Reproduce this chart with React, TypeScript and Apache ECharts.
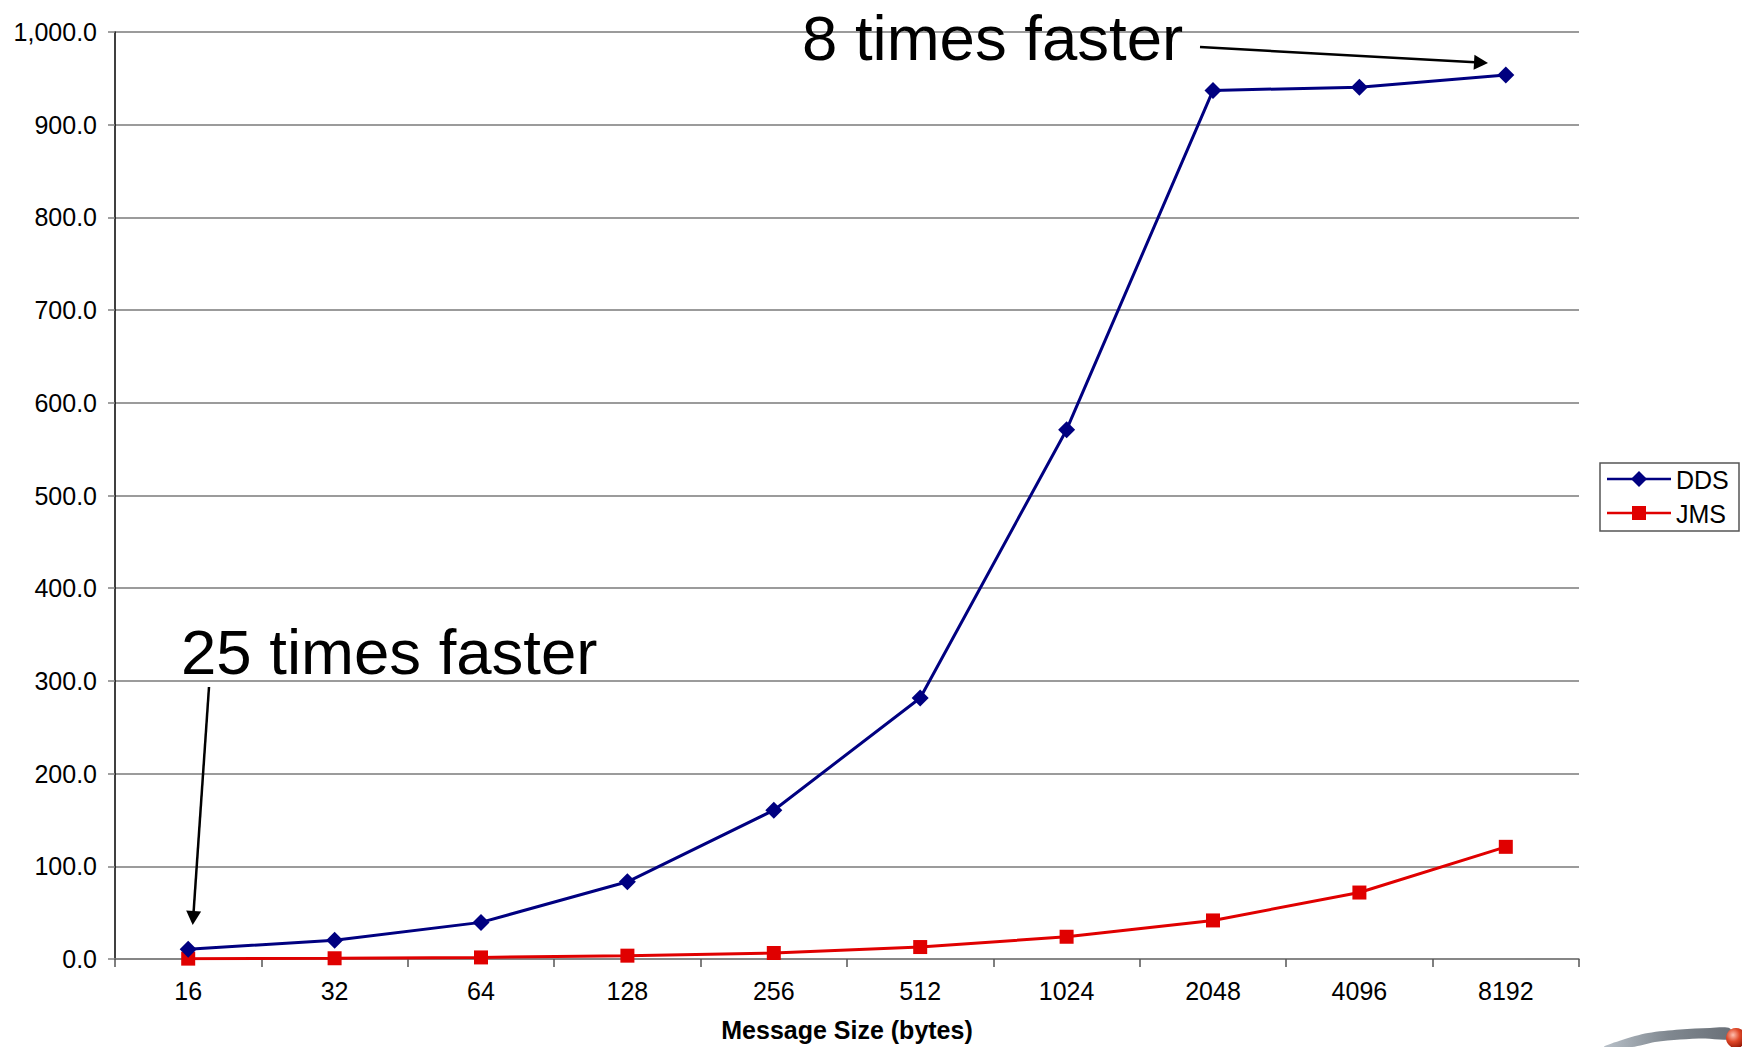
import React, { useEffect, useRef } from "react";
import * as echarts from "echarts";

const categories = ["16", "32", "64", "128", "256", "512", "1024", "2048", "4096", "8192"];
const ddsValues = [10.5, 20.3, 39.5, 83.3, 160.5, 281.5, 571, 937, 940.5, 953.5];
const jmsValues = [0.4, 0.8, 1.7, 3.6, 6.5, 12.9, 24, 41.6, 71.7, 121];
const seriesNames = ["DDS", "JMS"];
const seriesColors = ["#000080", "#e00000"];
const axisTitle = "Message Size (bytes)";
const notes = ["25 times faster", "8 times faster"];

const FONT = "'Liberation Sans', Arial, Helvetica, sans-serif";

function arrow(x1: number, y1: number, x2: number, y2: number, headLen = 14, headHalf = 7.5) {
  const dx = x2 - x1;
  const dy = y2 - y1;
  const len = Math.sqrt(dx * dx + dy * dy);
  const ux = dx / len;
  const uy = dy / len;
  const bx = x2 - ux * headLen;
  const by = y2 - uy * headLen;
  const px = -uy;
  const py = ux;
  return [
    {
      type: "line",
      shape: { x1, y1, x2: bx + ux, y2: by + uy },
      style: { stroke: "#000", lineWidth: 2.5 },
      z: 100,
    },
    {
      type: "polygon",
      shape: {
        points: [
          [x2, y2],
          [bx + px * headHalf, by + py * headHalf],
          [bx - px * headHalf, by - py * headHalf],
        ],
      },
      style: { fill: "#000" },
      z: 100,
    },
  ];
}

function legendGraphic() {
  const bx = 1600;
  const by = 463;
  const els: any[] = [
    {
      type: "rect",
      z: 90,
      shape: { x: bx, y: by, width: 139, height: 68 },
      style: { fill: "#fff", stroke: "#555", lineWidth: 1.5 },
    },
  ];
  const rows = [479, 513];
  rows.forEach((cy, i) => {
    const color = seriesColors[i];
    els.push({
      type: "line",
      z: 91,
      shape: { x1: 1607, y1: cy, x2: 1671, y2: cy },
      style: { stroke: color, lineWidth: 2.5 },
    });
    if (i === 0) {
      els.push({
        type: "polygon",
        z: 92,
        shape: { points: [[1639, cy - 8], [1647, cy], [1639, cy + 8], [1631, cy]] },
        style: { fill: color },
      });
    } else {
      els.push({
        type: "rect",
        z: 92,
        shape: { x: 1632, y: cy - 7, width: 14, height: 14 },
        style: { fill: color },
      });
    }
    els.push({
      type: "text",
      z: 92,
      x: 1676,
      y: cy + 1,
      style: {
        text: seriesNames[i],
        font: `25px ${FONT}`,
        fill: "#000",
        verticalAlign: "middle",
        align: "left",
      },
    });
  });
  return els;
}

export default function App() {
  const ref = useRef<HTMLDivElement>(null);
  useEffect(() => {
    if (!ref.current) return;
    const chart = echarts.init(ref.current, undefined, { renderer: "svg" });
    const option: any = {
      animation: false,
      backgroundColor: "#fff",
      grid: { left: 115, right: 163, top: 32, bottom: 85.3, containLabel: false },
      xAxis: {
        type: "category",
        data: categories,
        boundaryGap: true,
        name: axisTitle,
        nameLocation: "middle",
        nameGap: 58,
        nameTextStyle: { fontFamily: FONT, fontSize: 25, fontWeight: "bold", color: "#000" },
        axisLine: { show: true, lineStyle: { color: "#808080", width: 1.5 } },
        axisTick: { show: true, interval: 0, length: 8, lineStyle: { color: "#555", width: 1.5 } },
        axisLabel: { fontFamily: FONT, fontSize: 25, color: "#000", margin: 19, interval: 0 },
        splitLine: { show: false },
      },
      yAxis: {
        type: "value",
        min: 0,
        max: 1000,
        interval: 100,
        axisLine: { show: true, lineStyle: { color: "#000", width: 1.5 } },
        axisTick: { show: true, length: 7, lineStyle: { color: "#808080", width: 1.5 } },
        axisLabel: {
          fontFamily: FONT,
          fontSize: 25,
          color: "#000",
          margin: 18,
          formatter: (v: number) =>
            v.toLocaleString("en-US", { minimumFractionDigits: 1, maximumFractionDigits: 1 }),
        },
        splitLine: { show: true, lineStyle: { color: "#7a7a7a", width: 1.5 } },
      },
      series: [
        {
          name: seriesNames[0],
          type: "line",
          data: ddsValues,
          symbol: "diamond",
          symbolSize: 17,
          itemStyle: { color: seriesColors[0] },
          lineStyle: { color: seriesColors[0], width: 3 },
          z: 3,
        },
        {
          name: seriesNames[1],
          type: "line",
          data: jmsValues,
          symbol: "rect",
          symbolSize: 14,
          itemStyle: { color: seriesColors[1] },
          lineStyle: { color: seriesColors[1], width: 3 },
          z: 2,
        },
      ],
      graphic: [
        {
          type: "text",
          left: 181,
          top: 620,
          z: 100,
          style: { text: notes[0], font: `63.5px ${FONT}`, fill: "#000" },
        },
        {
          type: "text",
          left: 802,
          top: 6,
          z: 100,
          style: { text: notes[1], font: `63.5px ${FONT}`, lineHeight: 56, fill: "#000" },
        },
        ...arrow(209, 687, 192.7, 925),
        ...arrow(1200, 47, 1488, 63),
        ...legendGraphic(),
        {
          type: "polygon",
          z: 50,
          shape: {
            points: [
              [1604, 1047],
              [1622, 1040],
              [1648, 1033],
              [1680, 1029.5],
              [1710, 1028],
              [1730, 1028.5],
              [1730, 1039],
              [1705, 1038.5],
              [1680, 1039.5],
              [1655, 1042],
              [1632, 1047],
            ],
            smooth: 0.3,
          },
          style: {
            fill: {
              type: "linear",
              x: 0,
              y: 0,
              x2: 1,
              y2: 0,
              colorStops: [
                { offset: 0, color: "#b8c0c8" },
                { offset: 0.5, color: "#808890" },
                { offset: 1, color: "#6a7078" },
              ],
            },
          },
        },
        {
          type: "circle",
          z: 51,
          shape: { cx: 1736, cy: 1038, r: 10 },
          style: {
            fill: {
              type: "radial",
              x: 0.35,
              y: 0.35,
              r: 0.75,
              colorStops: [
                { offset: 0, color: "#ffc0b0" },
                { offset: 0.45, color: "#e04828" },
                { offset: 1, color: "#8a1000" },
              ],
            },
          },
        },
      ],
    };
    chart.setOption(option);
    return () => chart.dispose();
  }, []);
  return (
    <div
      ref={ref}
      style={{ position: "fixed", left: 0, top: 0, width: 1742, height: 1047, background: "#fff" }}
    />
  );
}
